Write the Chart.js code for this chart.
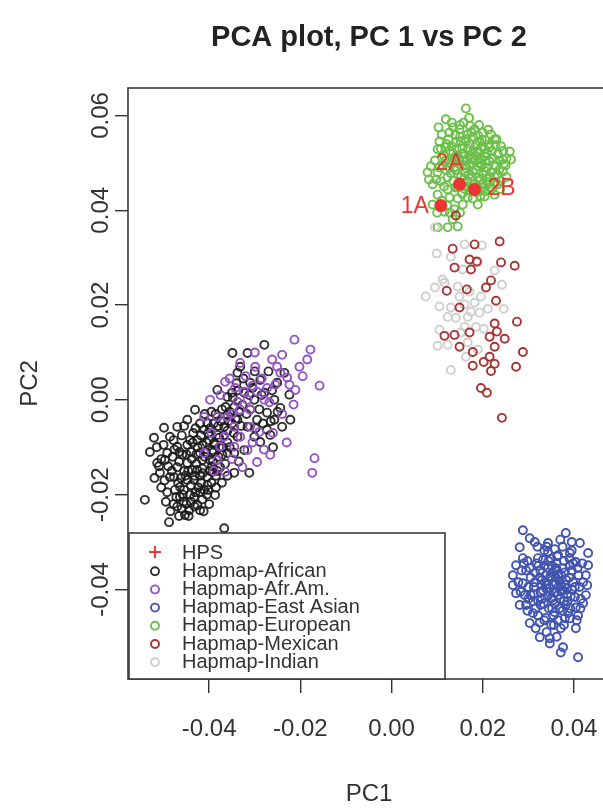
<!DOCTYPE html>
<html>
<head>
<meta charset="utf-8">
<script src="https://cdn.jsdelivr.net/npm/chart.js@4.4.0/dist/chart.umd.min.js"></script>
<style>
  html, body { margin: 0; padding: 0; background: #fff; overflow: hidden; }
  #wrap { width: 603px; height: 812px; overflow: hidden; }
  canvas { display: block; }
</style>
</head>
<body>
<div id="wrap"><canvas id="pca" width="610" height="812"></canvas></div>
<script>
const chartTitle = "PCA plot, PC 1 vs PC 2";
const xLabel = "PC1";
const yLabel = "PC2";
const groupNames = ["HPS", "Hapmap-African", "Hapmap-Afr.Am.", "Hapmap-East Asian", "Hapmap-European", "Hapmap-Mexican", "Hapmap-Indian"];
const xTicks = [-0.04, -0.02, 0, 0.02, 0.04];
const yTicks = [-0.04, -0.02, 0, 0.02, 0.04, 0.06];

const hpsLabels = ["1A", "2A", "2B"];
const hps = [[0.0108, 0.0410], [0.0149, 0.0455], [0.0182, 0.0444]];

const african = [
  [-0.0349,0.0099],[-0.0316,0.0099],[-0.0279,0.0116],[-0.0382,0.0021],[-0.0431,-0.0021],[-0.0499,-0.0059],
  [-0.0521,-0.0080],[-0.0486,-0.0078],[-0.0470,-0.0057],[-0.0514,-0.0133],[-0.0497,-0.0127],[-0.0541,-0.0211],
  [-0.0488,-0.0258],[-0.0453,-0.0243],[-0.0420,-0.0233],[-0.0367,-0.0271],[-0.0387,-0.0201],[-0.0345,-0.0154],
  [-0.0312,-0.0154],[-0.0288,-0.0089],[-0.0266,-0.0074],[-0.0222,-0.0042],[-0.0240,-0.0057],[-0.0244,-0.0017],
  [-0.0257,0.0000],[-0.0224,0.0011],[-0.0235,0.0057],[-0.0338,0.0057],[-0.0332,0.0070],[-0.0382,-0.0036],
  [-0.0411,-0.0063],[-0.0442,-0.0085],[-0.0470,-0.0099],[-0.0492,-0.0112],[-0.0486,-0.0163],[-0.0464,-0.0184],
  [-0.0433,-0.0169],[-0.0404,-0.0163],[-0.0376,-0.0142],[-0.0360,-0.0112],[-0.0338,-0.0078],[-0.0316,-0.0057],
  [-0.0295,-0.0042],[-0.0273,-0.0027],[-0.0301,0.0000],[-0.0323,0.0015],[-0.0345,-0.0015],[-0.0367,-0.0057],
  [-0.0389,-0.0091],[-0.0420,-0.0112],[-0.0448,-0.0133],[-0.0470,-0.0142],[-0.0433,-0.0205],[-0.0464,-0.0205],
  [-0.0411,-0.0190],[-0.0398,-0.0127],[-0.0426,-0.0085],[-0.0404,-0.0049],[-0.0448,-0.0042],[-0.0477,-0.0163],
  [-0.0508,-0.0154],[-0.0426,-0.0148],[-0.0393,-0.0152],[-0.0345,-0.0112],[-0.0323,-0.0106],[-0.0301,-0.0078],
  [-0.0273,-0.0063],[-0.0257,-0.0042],[-0.0338,-0.0042],[-0.0360,0.0006],[-0.0310,0.0036],[-0.0288,0.0042],
  [-0.0251,0.0036],[-0.0279,0.0015],[-0.0415,-0.0095],[-0.0437,-0.0148],[-0.0404,-0.0180],[-0.0448,-0.0169],
  [-0.0393,-0.0106],[-0.0382,-0.0074],[-0.0459,-0.0116],[-0.0426,-0.0222],[-0.0444,-0.0233],[-0.0371,-0.0116],
  [-0.0415,-0.0127],[-0.0400,-0.0085],[-0.0360,-0.0032],[-0.0327,-0.0011],[-0.0455,-0.0190],[-0.0440,-0.0110],
  [-0.0420,-0.0160],[-0.0395,-0.0175],[-0.0380,-0.0120],[-0.0360,-0.0090],[-0.0350,-0.0050],[-0.0430,-0.0060],
  [-0.0410,-0.0030],[-0.0450,-0.0220],[-0.0475,-0.0190],[-0.0470,-0.0225],[-0.0415,-0.0210],[-0.0385,-0.0185],
  [-0.0455,-0.0150],[-0.0390,-0.0050],[-0.0310,-0.0020],[-0.0300,0.0060],[-0.0270,0.0060],[-0.0260,-0.0100],
  [-0.0500,-0.0095],[-0.0490,-0.0140],[-0.0480,-0.0120],[-0.0478,-0.0085],[-0.0468,-0.0175],[-0.0465,-0.0110],
  [-0.0460,-0.0075],[-0.0458,-0.0200],[-0.0452,-0.0160],[-0.0448,-0.0095],[-0.0445,-0.0245],[-0.0440,-0.0180],
  [-0.0438,-0.0125],[-0.0435,-0.0070],[-0.0430,-0.0195],[-0.0428,-0.0135],[-0.0425,-0.0100],[-0.0420,-0.0050],
  [-0.0418,-0.0175],[-0.0415,-0.0145],[-0.0412,-0.0235],[-0.0408,-0.0110],[-0.0405,-0.0200],[-0.0402,-0.0070],
  [-0.0398,-0.0150],[-0.0395,-0.0025],[-0.0392,-0.0130],[-0.0388,-0.0095],[-0.0385,-0.0160],[-0.0380,-0.0055],
  [-0.0378,-0.0100],[-0.0372,-0.0020],[-0.0368,-0.0075],[-0.0365,-0.0135],[-0.0358,-0.0045],[-0.0355,-0.0100],
  [-0.0350,0.0015],[-0.0346,-0.0070],[-0.0340,0.0035],[-0.0335,-0.0025],[-0.0330,-0.0055],[-0.0325,0.0045],
  [-0.0318,-0.0030],[-0.0312,0.0010],[-0.0305,0.0025],[-0.0298,-0.0060],[-0.0290,-0.0020],[-0.0285,0.0010],
  [-0.0282,-0.0050],[-0.0265,-0.0045],[-0.0262,0.0020],[-0.0250,-0.0025],[-0.0530,-0.0110],[-0.0520,-0.0165],
  [-0.0515,-0.0100],[-0.0505,-0.0185],[-0.0495,-0.0215],[-0.0485,-0.0235],[-0.0460,-0.0230],[-0.0432,-0.0225],
  [-0.0400,-0.0220],[-0.0455,-0.0055],[-0.0372,-0.0175],[-0.0360,-0.0160],[-0.0335,-0.0130],
  [-0.0505,-0.0125],[-0.0498,-0.0170],[-0.0492,-0.0195],[-0.0482,-0.0150],[-0.0476,-0.0105],[-0.0472,-0.0205],
  [-0.0466,-0.0130],[-0.0462,-0.0165],[-0.0456,-0.0215],[-0.0450,-0.0115],[-0.0446,-0.0150],[-0.0442,-0.0200],
  [-0.0436,-0.0090],[-0.0432,-0.0160],[-0.0428,-0.0115],[-0.0424,-0.0185],[-0.0418,-0.0075],[-0.0414,-0.0155],
  [-0.0410,-0.0120],[-0.0406,-0.0090],[-0.0402,-0.0190],[-0.0398,-0.0060],[-0.0394,-0.0140],[-0.0390,-0.0110],
  [-0.0386,-0.0030],[-0.0382,-0.0150],[-0.0378,-0.0080],[-0.0374,-0.0045],[-0.0370,-0.0100],[-0.0364,-0.0015],
  [-0.0360,-0.0065],[-0.0355,-0.0025],[-0.0348,0.0005],[-0.0342,-0.0040],[-0.0336,0.0020],[-0.0478,-0.0220],
  [-0.0466,-0.0245],[-0.0440,-0.0215],[-0.0420,-0.0195],[-0.0510,-0.0140]
];

const afrAm = [
  [-0.0213,0.0127],[-0.0178,0.0106],[-0.0158,0.0030],[-0.0332,0.0078],[-0.0299,0.0070],[-0.0251,0.0070],
  [-0.0202,0.0070],[-0.0229,0.0047],[-0.0211,0.0021],[-0.0365,0.0038],[-0.0343,0.0025],[-0.0323,0.0017],
  [-0.0295,0.0017],[-0.0273,0.0025],[-0.0255,0.0032],[-0.0244,0.0057],[-0.0338,-0.0004],[-0.0316,0.0000],
  [-0.0279,0.0000],[-0.0332,-0.0021],[-0.0310,-0.0021],[-0.0382,-0.0036],[-0.0360,-0.0036],[-0.0411,-0.0036],
  [-0.0345,-0.0057],[-0.0310,-0.0057],[-0.0290,-0.0068],[-0.0367,-0.0078],[-0.0332,-0.0078],[-0.0376,-0.0099],
  [-0.0345,-0.0099],[-0.0316,-0.0106],[-0.0411,-0.0112],[-0.0382,-0.0127],[-0.0365,-0.0152],[-0.0327,-0.0142],
  [-0.0295,-0.0131],[-0.0266,-0.0116],[-0.0169,-0.0123],[-0.0174,-0.0154],[-0.0224,0.0032],[-0.0398,0.0000],
  [-0.0300,0.0100],[-0.0262,0.0085],[-0.0240,0.0095],[-0.0195,0.0050],[-0.0185,0.0085],[-0.0215,-0.0010],
  [-0.0240,-0.0030],[-0.0260,-0.0070],[-0.0305,-0.0090],[-0.0350,-0.0125],[-0.0395,-0.0070],[-0.0375,0.0010],
  [-0.0355,0.0045],[-0.0320,0.0050],[-0.0285,0.0045],[-0.0268,-0.0005],[-0.0350,-0.0030],[-0.0390,-0.0150],
  [-0.0280,-0.0105],[-0.0230,-0.0090],[-0.0305,0.0030]
];

const eastAsian = [
  [0.0288,-0.0275],[0.0303,-0.0292],[0.0281,-0.0311],[0.0314,-0.0300],[0.0343,-0.0302],[0.0382,-0.0281],
  [0.0413,-0.0302],[0.0431,-0.0323],[0.0431,-0.0349],[0.0426,-0.0370],[0.0429,-0.0391],[0.0426,-0.0412],
  [0.0420,-0.0429],[0.0409,-0.0455],[0.0404,-0.0482],[0.0391,-0.0461],[0.0371,-0.0482],[0.0347,-0.0503],
  [0.0347,-0.0514],[0.0325,-0.0501],[0.0316,-0.0482],[0.0303,-0.0471],[0.0310,-0.0450],[0.0295,-0.0433],
  [0.0281,-0.0433],[0.0273,-0.0408],[0.0266,-0.0391],[0.0266,-0.0370],[0.0273,-0.0349],[0.0288,-0.0334],
  [0.0371,-0.0533],[0.0376,-0.0522],[0.0409,-0.0543],[0.0343,-0.0321],[0.0365,-0.0328],[0.0391,-0.0323],
  [0.0404,-0.0342],[0.0321,-0.0334],[0.0303,-0.0355],[0.0314,-0.0385],[0.0305,-0.0412],[0.0327,-0.0433],
  [0.0358,-0.0448],[0.0382,-0.0433],[0.0402,-0.0416],[0.0398,-0.0385],[0.0380,-0.0364],[0.0343,-0.0355],
  [0.0336,-0.0385],[0.0358,-0.0406],[0.0371,-0.0391],[0.0349,-0.0376],[0.0327,-0.0406],[0.0360,-0.0355],
  [0.0391,-0.0349],[0.0321,-0.0455],[0.0380,-0.0461],[0.0404,-0.0438],[0.0288,-0.0387],[0.0292,-0.0412],
  [0.0332,-0.0402],[0.0354,-0.0423],[0.0338,-0.0370],[0.0365,-0.0412],[0.0321,-0.0423],[0.0347,-0.0397],
  [0.0376,-0.0402],[0.0332,-0.0338],[0.0360,-0.0375],[0.0385,-0.0410],[0.0345,-0.0440],[0.0315,-0.0365],
  [0.0295,-0.0360],[0.0300,-0.0395],[0.0310,-0.0425],[0.0318,-0.0345],[0.0325,-0.0375],[0.0330,-0.0420],
  [0.0335,-0.0350],[0.0340,-0.0390],[0.0342,-0.0415],[0.0350,-0.0335],[0.0352,-0.0365],[0.0355,-0.0390],
  [0.0358,-0.0430],[0.0362,-0.0345],[0.0366,-0.0395],[0.0370,-0.0420],[0.0372,-0.0370],[0.0378,-0.0340],
  [0.0380,-0.0390],[0.0386,-0.0425],[0.0390,-0.0375],[0.0395,-0.0360],[0.0396,-0.0400],[0.0410,-0.0370],
  [0.0412,-0.0395],[0.0415,-0.0420],[0.0418,-0.0345],[0.0335,-0.0465],[0.0350,-0.0475],[0.0365,-0.0465],
  [0.0340,-0.0490],[0.0355,-0.0455],[0.0375,-0.0445],[0.0392,-0.0440],[0.0320,-0.0310],[0.0335,-0.0318],
  [0.0358,-0.0315],[0.0375,-0.0310],[0.0395,-0.0318],[0.0285,-0.0360],[0.0278,-0.0385],[0.0298,-0.0445],
  [0.0312,-0.0395],[0.0328,-0.0390],[0.0345,-0.0405],[0.0368,-0.0382],[0.0384,-0.0398],[0.0352,-0.0440],
  [0.0326,-0.0360],[0.0362,-0.0358],
  [0.0298,-0.0340],[0.0305,-0.0375],[0.0312,-0.0410],[0.0316,-0.0440],[0.0322,-0.0350],[0.0330,-0.0380],
  [0.0334,-0.0430],[0.0338,-0.0460],[0.0344,-0.0340],[0.0348,-0.0372],[0.0351,-0.0418],[0.0356,-0.0475],
  [0.0360,-0.0388],[0.0363,-0.0330],[0.0368,-0.0440],[0.0372,-0.0405],[0.0375,-0.0355],[0.0378,-0.0475],
  [0.0383,-0.0380],[0.0387,-0.0450],[0.0390,-0.0335],[0.0393,-0.0415],[0.0398,-0.0345],[0.0402,-0.0395],
  [0.0406,-0.0465],[0.0408,-0.0355],[0.0414,-0.0440],[0.0300,-0.0420],[0.0290,-0.0345],[0.0283,-0.0405],
  [0.0325,-0.0470],[0.0362,-0.0500],[0.0340,-0.0310],[0.0370,-0.0295],[0.0395,-0.0300],[0.0420,-0.0385],
  [0.0352,-0.0350],[0.0366,-0.0368],[0.0339,-0.0398],[0.0378,-0.0425]
];

const european = [
  [0.0163,0.0615],[0.0119,0.0592],[0.0103,0.0575],[0.0127,0.0564],[0.0149,0.0571],[0.0182,0.0571],
  [0.0200,0.0564],[0.0226,0.0550],[0.0240,0.0535],[0.0259,0.0524],[0.0262,0.0507],[0.0244,0.0507],
  [0.0105,0.0545],[0.0101,0.0529],[0.0119,0.0533],[0.0141,0.0543],[0.0163,0.0545],[0.0193,0.0545],
  [0.0215,0.0533],[0.0233,0.0518],[0.0229,0.0493],[0.0244,0.0482],[0.0226,0.0471],[0.0207,0.0482],
  [0.0189,0.0493],[0.0171,0.0497],[0.0156,0.0518],[0.0178,0.0522],[0.0204,0.0514],[0.0215,0.0503],
  [0.0086,0.0493],[0.0079,0.0480],[0.0101,0.0480],[0.0090,0.0455],[0.0108,0.0461],[0.0123,0.0444],
  [0.0101,0.0433],[0.0090,0.0412],[0.0116,0.0397],[0.0138,0.0402],[0.0156,0.0412],[0.0167,0.0427],
  [0.0189,0.0412],[0.0204,0.0429],[0.0215,0.0448],[0.0233,0.0455],[0.0226,0.0433],[0.0134,0.0381],
  [0.0123,0.0364],[0.0101,0.0364],[0.0145,0.0366],[0.0127,0.0427],[0.0145,0.0448],[0.0167,0.0461],
  [0.0189,0.0469],[0.0200,0.0455],[0.0127,0.0490],[0.0138,0.0507],[0.0160,0.0480],[0.0178,0.0482],
  [0.0196,0.0507],[0.0123,0.0469],[0.0167,0.0529],[0.0185,0.0539],[0.0149,0.0497],[0.0204,0.0529],
  [0.0167,0.0560],[0.0218,0.0560],[0.0145,0.0476],[0.0193,0.0444],[0.0175,0.0510],[0.0190,0.0520],
  [0.0155,0.0530],[0.0210,0.0490],[0.0180,0.0455],[0.0160,0.0445],[0.0135,0.0520],[0.0200,0.0475],
  [0.0110,0.0560],[0.0125,0.0550],[0.0135,0.0575],[0.0150,0.0555],[0.0158,0.0585],[0.0172,0.0578],
  [0.0190,0.0558],[0.0205,0.0548],[0.0212,0.0570],[0.0228,0.0538],[0.0236,0.0505],[0.0250,0.0495],
  [0.0252,0.0470],[0.0240,0.0462],[0.0222,0.0510],[0.0210,0.0520],[0.0198,0.0535],[0.0182,0.0505],
  [0.0170,0.0515],[0.0158,0.0505],[0.0145,0.0515],[0.0132,0.0535],[0.0115,0.0515],[0.0112,0.0495],
  [0.0130,0.0500],[0.0140,0.0485],[0.0152,0.0470],[0.0165,0.0488],[0.0176,0.0470],[0.0186,0.0485],
  [0.0198,0.0495],[0.0214,0.0470],[0.0228,0.0460],[0.0236,0.0485],[0.0220,0.0445],[0.0205,0.0440],
  [0.0172,0.0440],[0.0158,0.0458],[0.0135,0.0462],[0.0115,0.0450],[0.0098,0.0465],[0.0095,0.0505],
  [0.0108,0.0530],[0.0122,0.0410],[0.0145,0.0425],[0.0178,0.0425],[0.0195,0.0430],[0.0110,0.0420],
  [0.0100,0.0395],[0.0128,0.0395],[0.0150,0.0395],[0.0082,0.0465],[0.0140,0.0560],[0.0162,0.0550],
  [0.0188,0.0525],[0.0245,0.0525],[0.0252,0.0510],[0.0170,0.0595],[0.0192,0.0580],[0.0132,0.0585],
  [0.0120,0.0540],[0.0128,0.0525],[0.0137,0.0510],[0.0143,0.0530],[0.0152,0.0545],[0.0158,0.0520],
  [0.0165,0.0505],[0.0172,0.0540],[0.0178,0.0555],[0.0185,0.0515],[0.0192,0.0500],[0.0198,0.0548],
  [0.0206,0.0505],[0.0212,0.0538],[0.0220,0.0525],[0.0225,0.0495],[0.0232,0.0475],[0.0218,0.0480],
  [0.0210,0.0460],[0.0195,0.0465],[0.0185,0.0450],[0.0170,0.0475],[0.0162,0.0495],[0.0148,0.0505],
  [0.0138,0.0490],[0.0130,0.0478],[0.0120,0.0485],[0.0140,0.0448],[0.0155,0.0435],[0.0168,0.0450],
  [0.0186,0.0438],[0.0200,0.0448],[0.0212,0.0455],[0.0238,0.0445],[0.0246,0.0498],[0.0230,0.0550],
  [0.0175,0.0565],[0.0150,0.0580],[0.0118,0.0505],[0.0105,0.0490]
];

const mexican = [
  [0.0134,0.0319],[0.0182,0.0328],[0.0237,0.0334],[0.0240,0.0290],[0.0270,0.0283],[0.0138,0.0279],
  [0.0171,0.0296],[0.0174,0.0275],[0.0187,0.0292],[0.0218,0.0252],[0.0207,0.0237],[0.0121,0.0230],
  [0.0229,0.0209],[0.0149,0.0195],[0.0275,0.0165],[0.0226,0.0161],[0.0231,0.0144],[0.0215,0.0133],
  [0.0248,0.0129],[0.0116,0.0135],[0.0138,0.0137],[0.0171,0.0142],[0.0149,0.0112],[0.0226,0.0112],
  [0.0288,0.0101],[0.0178,0.0101],[0.0215,0.0091],[0.0202,0.0080],[0.0226,0.0076],[0.0178,0.0072],
  [0.0218,0.0061],[0.0273,0.0070],[0.0196,0.0025],[0.0209,0.0015],[0.0242,-0.0038],[0.0165,0.0233],
  [0.0141,0.0389]
];

const indian = [
  [0.0099,0.0309],[0.0160,0.0328],[0.0198,0.0326],[0.0130,0.0302],[0.0189,0.0290],[0.0226,0.0273],
  [0.0156,0.0275],[0.0112,0.0254],[0.0095,0.0237],[0.0075,0.0218],[0.0145,0.0239],[0.0171,0.0228],
  [0.0196,0.0218],[0.0242,0.0243],[0.0246,0.0192],[0.0211,0.0192],[0.0105,0.0197],[0.0130,0.0195],
  [0.0160,0.0201],[0.0182,0.0205],[0.0141,0.0173],[0.0167,0.0175],[0.0193,0.0184],[0.0123,0.0175],
  [0.0105,0.0148],[0.0160,0.0154],[0.0185,0.0154],[0.0202,0.0150],[0.0101,0.0114],[0.0123,0.0116],
  [0.0167,0.0121],[0.0189,0.0106],[0.0163,0.0091],[0.0130,0.0063],[0.0116,0.0247],[0.0149,0.0218],
  [0.0174,0.0186],[0.0152,0.0142],[0.0095,0.0364]
];

const styles = {
  HPS: "#ee3333",
  african: "rgba(25,25,25,0.9)",
  afrAm: "#9652c8",
  eastAsian: "#4254b0",
  european: "#6cc04a",
  mexican: "#a83434",
  indian: "#cfcfcf"
};
const legendColors = [styles.HPS, styles.african, styles.afrAm, styles.eastAsian, styles.european, styles.mexican, styles.indian];

const toPts = arr => arr.map(p => ({ x: p[0], y: p[1] }));
const ring = (label, data, color) => ({
  label, data: toPts(data), borderColor: color, backgroundColor: "transparent",
  pointRadius: 4, borderWidth: 1.9, pointHoverRadius: 4
});

const FONT = "'Liberation Sans', Arial, sans-serif";

const extras = {
  id: "extras",
  afterDraw(chart) {
    const { ctx, chartArea: a, scales } = chart;
    ctx.save();
    // HPS sample labels
    const labelPos = [{ align: "right", dx: -12, dy: 1 }, { align: "center", dx: -10, dy: -21 }, { align: "left", dx: 13, dy: -1 }];
    ctx.fillStyle = styles.HPS;
    ctx.font = "23px " + FONT;
    ctx.textBaseline = "middle";
    hps.forEach((p, i) => {
      const px = scales.x.getPixelForValue(p[0]);
      const py = scales.y.getPixelForValue(p[1]);
      ctx.textAlign = labelPos[i].align;
      ctx.fillText(hpsLabels[i], px + labelPos[i].dx, py + labelPos[i].dy);
    });
    // plot box
    ctx.strokeStyle = "#3a3a3a";
    ctx.lineWidth = 1.6;
    ctx.strokeRect(a.left, a.top, a.width, a.height);
    // legend
    const lx = a.left + 1, ly = 533, lw = 445 - lx, lh = a.bottom - ly;
    ctx.fillStyle = "#fff";
    ctx.fillRect(lx, ly, lw, lh);
    ctx.strokeRect(lx, ly, lw, lh);
    ctx.font = "20px " + FONT;
    ctx.textAlign = "left";
    groupNames.forEach((name, i) => {
      const y = 553 + i * 18.2;
      ctx.strokeStyle = legendColors[i];
      ctx.lineWidth = 1.9;
      ctx.beginPath();
      if (i === 0) {
        ctx.moveTo(149, y - 1); ctx.lineTo(161, y - 1);
        ctx.moveTo(155, y - 7); ctx.lineTo(155, y + 5);
      } else {
        ctx.arc(155, y, 4, 0, Math.PI * 2);
      }
      ctx.stroke();
      ctx.fillStyle = "#333";
      ctx.fillText(name, 182, y);
    });
    // title
    ctx.fillStyle = "#222";
    ctx.font = "bold 29px " + FONT;
    ctx.textAlign = "center";
    ctx.fillText(chartTitle, (a.left + a.right) / 2, 38);
    ctx.restore();
  }
};

const tickFont = { family: FONT, size: 24 };

new Chart(document.getElementById("pca"), {
  type: "scatter",
  data: {
    datasets: [
      { label: "HPS", data: toPts(hps), backgroundColor: styles.HPS, borderColor: styles.HPS, pointRadius: 6.5, borderWidth: 0 },
      ring("Hapmap-Mexican", mexican, styles.mexican),
      ring("Hapmap-Indian", indian, styles.indian),
      ring("Hapmap-European", european, styles.european),
      ring("Hapmap-East Asian", eastAsian, styles.eastAsian),
      ring("Hapmap-Afr.Am.", afrAm, styles.afrAm),
      ring("Hapmap-African", african, styles.african)
    ]
  },
  options: {
    responsive: false,
    animation: false,
    layout: { autoPadding: false, padding: { top: 88, left: 0, right: 0, bottom: 0 } },
    plugins: { legend: { display: false }, tooltip: { enabled: false }, title: { display: false } },
    scales: {
      x: {
        type: "linear",
        min: -0.0578,
        max: 0.0479,
        afterFit: s => { s.height = 133; s.paddingLeft = 0; s.paddingRight = 0; },
        afterBuildTicks: s => { s.ticks = xTicks.map(v => ({ value: v })); },
        border: { display: false },
        grid: { drawOnChartArea: false, drawTicks: true, tickLength: 14, color: "#333", lineWidth: 1.4 },
        ticks: { font: tickFont, color: "#333", padding: 22, maxRotation: 0, callback: v => v.toFixed(2) },
        title: { display: true, text: xLabel, font: { family: FONT, size: 24 }, color: "#333", padding: { top: 0, bottom: 3 } }
      },
      y: {
        type: "linear",
        min: -0.0589,
        max: 0.0658,
        afterFit: s => { s.width = 128; s.paddingTop = 0; s.paddingBottom = 0; },
        afterBuildTicks: s => { s.ticks = yTicks.map(v => ({ value: v })); },
        border: { display: false },
        grid: { drawOnChartArea: false, drawTicks: true, tickLength: 13, color: "#333", lineWidth: 1.4 },
        ticks: { font: tickFont, color: "#333", padding: -14, minRotation: 90, maxRotation: 90, crossAlign: "center", callback: v => v.toFixed(2) },
        title: { display: true, text: yLabel, font: { family: FONT, size: 24 }, color: "#333", padding: { top: 16, bottom: 0 } }
      }
    }
  },
  plugins: [extras]
});
</script>
</body>
</html>
